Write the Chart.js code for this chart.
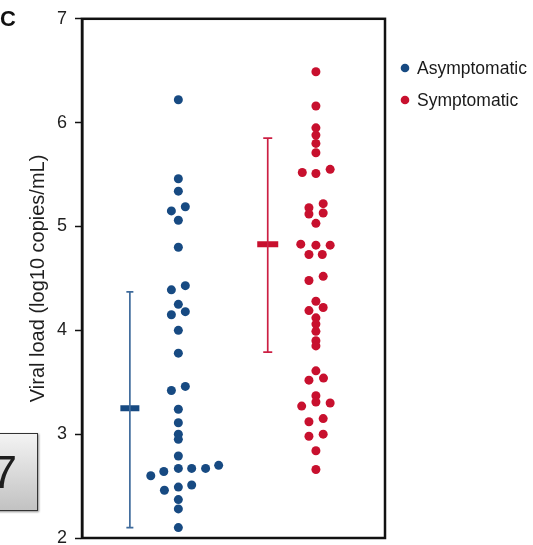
<!DOCTYPE html>
<html>
<head>
<meta charset="utf-8">
<script src="https://cdn.jsdelivr.net/npm/chart.js@4.4.1/dist/chart.umd.min.js"></script>
<style>
  html, body { margin: 0; padding: 0; background: #fff; overflow: hidden; width: 533px; height: 545px; }
  #wrap { position: relative; width: 533px; height: 545px; overflow: hidden; }
  canvas { position: absolute; left: 0; top: 0; }
  #pagebox { position: absolute; left: -8px; top: 433px; width: 44px; height: 76px;
    border: 1.5px solid #333; background: linear-gradient(#f3f3f3, #c2c2c2);
    box-shadow: 1px 1px 2px rgba(0,0,0,0.45); }
  #pagenum { position: absolute; left: -9px; top: 448px; font-family: "Liberation Sans", Arial, sans-serif;
    font-size: 47px; line-height: 47px; color: #1e1e1e; }
</style>
</head>
<body>
<div id="wrap">
  <canvas id="c" width="533" height="560"></canvas>
  <div id="pagebox"></div>
  <div id="pagenum">7</div>
</div>
<script>
// ---- data ----
const groups = ['Asymptomatic', 'Symptomatic'];
const groupColors = ['#174a82', '#c8102e'];
const barColors = ['#3f6b9c', '#cc1f43'];
const groupX = [3.18, 7.72];
const errorX = [1.58, 6.13];

const asymValues = [6.22, 5.46, 5.34, 5.15, 5.19, 5.06, 4.80, 4.39, 4.43, 4.25, 4.18, 4.15, 4.00, 3.78,
  3.42, 3.46, 3.24, 3.11, 3.00, 2.95, 2.79, 2.67, 2.67, 2.67, 2.70, 2.60, 2.64, 2.46, 2.49, 2.51,
  2.37, 2.28, 2.10];
const asymOffsets = [0, 0, 0, -0.23, 0.23, 0, 0, -0.23, 0.23, 0, 0.23, -0.23, 0, 0,
  -0.23, 0.23, 0, 0, 0, 0, 0, 0, 0.44, 0.90, 1.33, -0.91, -0.48, -0.46, 0, 0.44,
  0, 0, 0];

const symValues = [6.49, 6.16, 5.95, 5.88, 5.80, 5.71, 5.52, 5.51, 5.55, 5.18, 5.22, 5.12, 5.13, 5.03,
  4.83, 4.82, 4.82, 4.73, 4.73, 4.48, 4.52, 4.28, 4.19, 4.22, 4.12, 4.06, 3.99, 3.90, 3.85,
  3.61, 3.52, 3.54, 3.37, 3.31, 3.27, 3.30, 3.12, 3.15, 2.98, 3.00, 2.84, 2.66];
const symOffsets = [0, 0, 0, 0, 0, 0, -0.45, 0, 0.47, -0.23, 0.24, -0.23, 0.24, 0,
  -0.50, 0, 0.47, -0.23, 0.21, -0.23, 0.24, 0, -0.23, 0.24, 0, 0, 0, 0, 0,
  0, -0.23, 0.25, 0, 0, -0.47, 0.47, -0.23, 0.24, -0.23, 0.24, 0, 0];

const means = [3.25, 4.83];
const lows = [2.10, 3.79];
const highs = [4.37, 5.85];
const yTicks = [2, 3, 4, 5, 6, 7];
const yTitle = 'Viral load (log10 copies/mL)';
const panelLabel = 'C';

const FONT = '"Liberation Sans", Arial, Helvetica, sans-serif';

const values = [asymValues, symValues];
const offsets = [asymOffsets, symOffsets];

const datasets = [];
// error bars (mean ± SD)
for (let g = 0; g < 2; g++) {
  datasets.push({
    type: 'line', label: '', isBar: true,
    data: [{x: errorX[g], y: lows[g]}, {x: errorX[g], y: highs[g]}],
    borderColor: barColors[g], borderWidth: 1.7, pointRadius: 0, showLine: true, fill: false
  });
  datasets.push({
    type: 'scatter', label: '', isBar: true,
    data: [{x: errorX[g], y: lows[g]}, {x: errorX[g], y: highs[g]}],
    pointStyle: 'line', pointRadius: g === 0 ? 3.5 : 4.5, borderWidth: 1.7,
    borderColor: barColors[g], backgroundColor: barColors[g]
  });
  datasets.push({
    type: 'scatter', label: '', isBar: true,
    data: [{x: errorX[g], y: means[g]}],
    pointStyle: 'line', pointRadius: g === 0 ? 9.5 : 10.5, borderWidth: 6,
    borderColor: groupColors[g], backgroundColor: groupColors[g]
  });
}
// individual points
for (let g = 0; g < 2; g++) {
  datasets.push({
    type: 'scatter', label: groups[g], isGroup: true,
    data: values[g].map((v, i) => ({x: groupX[g] + offsets[g][i], y: v})),
    pointRadius: 4.5, pointHoverRadius: 4.5, borderWidth: 0,
    backgroundColor: groupColors[g], borderColor: groupColors[g]
  });
}

const decor = {
  id: 'decor',
  beforeDatasetsDraw(chart) {
    const {ctx, chartArea: a} = chart;
    ctx.save();
    ctx.strokeStyle = '#111';
    ctx.lineWidth = 2.5;
    ctx.strokeRect(a.left, a.top, a.right - a.left, a.bottom - a.top);
    ctx.restore();
  },
  afterDraw(chart) {
    const {ctx, chartArea: a} = chart;
    ctx.save();
    // panel label
    ctx.fillStyle = '#111';
    ctx.font = 'bold 22px ' + FONT;
    ctx.textAlign = 'left';
    ctx.textBaseline = 'alphabetic';
    ctx.fillText(panelLabel, 0, 26);
    // legend
    const groupsDs = chart.data.datasets.filter(d => d.isGroup);
    ctx.font = '17.5px ' + FONT;
    ctx.textBaseline = 'middle';
    groupsDs.forEach((d, i) => {
      const y = 68 + i * 32;
      ctx.fillStyle = d.backgroundColor;
      ctx.beginPath();
      ctx.arc(a.right + 20, y, 4.3, 0, Math.PI * 2);
      ctx.fill();
      ctx.fillStyle = '#1a1a1a';
      ctx.fillText(d.label, a.right + 32, y + 1);
    });
    ctx.restore();
  }
};

new Chart(document.getElementById('c'), {
  type: 'scatter',
  data: { datasets },
  options: {
    responsive: false,
    animation: false,
    devicePixelRatio: 1,
    layout: { padding: { top: 16, right: 148, bottom: 22, left: 0 } },
    scales: {
      x: { type: 'linear', min: 0, max: 10, display: false },
      y: {
        type: 'linear', min: 2, max: 7,
        afterBuildTicks(s) { s.ticks = yTicks.map(v => ({value: v})); },
        afterFit(s) { s.width = 82; },
        ticks: { font: { size: 18, family: FONT }, color: '#1f1f1f', padding: 8 },
        grid: { drawOnChartArea: false, drawTicks: true, tickLength: 7, tickColor: '#111', tickWidth: 1.5 },
        border: { display: true, color: '#111', width: 2.5 },
        title: { display: true, text: yTitle, color: '#1f1f1f',
          font: { size: 20, family: FONT }, padding: { top: 26, bottom: 0 } }
      }
    },
    plugins: { legend: { display: false }, tooltip: { enabled: false } }
  },
  plugins: [decor]
});
</script>
</body>
</html>
